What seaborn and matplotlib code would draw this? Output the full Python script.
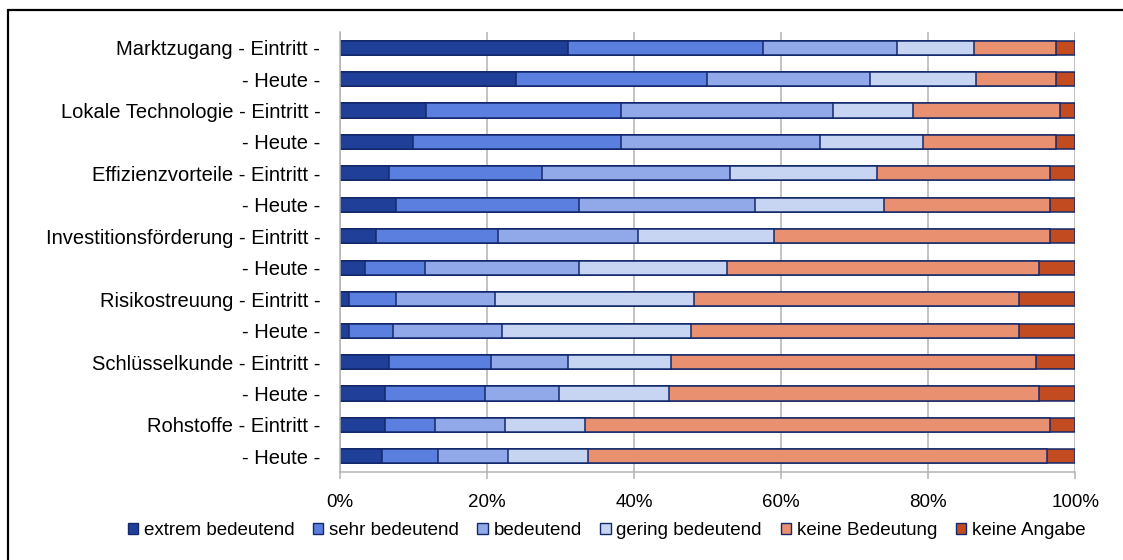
import numpy as np
import pandas as pd
import seaborn as sns
import matplotlib.pyplot as plt
from matplotlib.patches import Patch
from matplotlib.lines import Line2D

# rows from top to bottom
row_keys = ["Marktzugang - Eintritt", "Marktzugang - Heute",
            "Lokale Technologie - Eintritt", "Lokale Technologie - Heute",
            "Effizienzvorteile - Eintritt", "Effizienzvorteile - Heute",
            "Investitionsförderung - Eintritt", "Investitionsförderung - Heute",
            "Risikostreuung - Eintritt", "Risikostreuung - Heute",
            "Schlüsselkunde - Eintritt", "Schlüsselkunde - Heute",
            "Rohstoffe - Eintritt", "Rohstoffe - Heute"]
row_labels = ["Marktzugang - Eintritt -", "- Heute -",
              "Lokale Technologie - Eintritt -", "- Heute -",
              "Effizienzvorteile - Eintritt -", "- Heute -",
              "Investitionsförderung - Eintritt -", "- Heute -",
              "Risikostreuung - Eintritt -", "- Heute -",
              "Schlüsselkunde - Eintritt -", "- Heute -",
              "Rohstoffe - Eintritt -", "- Heute -"]

extrem = [31.0, 23.9, 11.7, 9.9, 6.7, 7.7, 4.9, 3.4, 1.3, 1.3, 6.7, 6.2, 6.2, 5.8]
sehr = [26.6, 26.0, 26.6, 28.4, 20.8, 24.8, 16.6, 8.2, 6.4, 5.9, 13.9, 13.6, 6.7, 7.6]
bedeutend = [18.1, 22.2, 28.8, 27.0, 25.6, 23.9, 19.0, 20.9, 13.4, 14.8, 10.4, 10.0, 9.6, 9.5]
gering = [10.5, 14.4, 10.9, 14.0, 19.9, 17.6, 18.5, 20.2, 27.1, 25.8, 14.0, 14.9, 10.8, 10.9]
keine_bed = [11.2, 10.9, 19.9, 18.1, 23.5, 22.5, 37.5, 42.4, 44.2, 44.6, 49.6, 50.4, 63.2, 62.3]
keine_ang = [2.6, 2.6, 2.1, 2.6, 3.5, 3.5, 3.5, 4.9, 7.6, 7.6, 5.4, 4.9, 3.5, 3.9]

series_names = ["extrem bedeutend", "sehr bedeutend", "bedeutend",
                "gering bedeutend", "keine Bedeutung", "keine Angabe"]
colors = ["#1f3f99", "#5b7fde", "#91a9e8", "#c7d5f3", "#e8906f", "#c24b20"]
edge = "#14296b"

df = pd.DataFrame({"row": row_keys, "extrem bedeutend": extrem,
                   "sehr bedeutend": sehr, "bedeutend": bedeutend,
                   "gering bedeutend": gering, "keine Bedeutung": keine_bed,
                   "keine Angabe": keine_ang})
cum = df[series_names].cumsum(axis=1)

sns.set_style("white")
plt.rcParams["font.family"] = ["Liberation Sans", "DejaVu Sans"]
plt.rcParams["font.size"] = 13.5
plt.rcParams["text.color"] = "black"

fig = plt.figure(figsize=(11.23, 5.6), dpi=100)
ax = fig.add_axes([0.3025, 0.157, 0.655, 0.786])

# stacked bars: draw cumulative totals from the outermost segment inwards
for name, col in reversed(list(zip(series_names, colors))):
    sns.barplot(x=cum[name], y=df["row"], order=row_keys, color=col,
                orient="h", width=0.45, edgecolor=edge, linewidth=1.1,
                saturation=1, ax=ax)

ax.set_xlim(0, 100)
ax.set_ylim(13.5, -0.5)
ax.set_xticks(np.arange(0, 101, 20))
ax.set_xticklabels([f"{v}%" for v in range(0, 101, 20)])
ax.set_yticks(range(len(row_labels)))
ax.set_yticklabels(row_labels, fontsize=14.5)
ax.set_yticks(np.arange(-0.5, 14, 1), minor=True)
ax.set_xlabel("")
ax.set_ylabel("")
ax.xaxis.grid(True, color="#b3b3b3", linewidth=1.1)
ax.set_axisbelow(True)
for s in ["top", "right"]:
    ax.spines[s].set_visible(False)
for s in ["left", "bottom"]:
    ax.spines[s].set_color("#b3b3b3")
    ax.spines[s].set_linewidth(1.1)
ax.tick_params(axis="y", which="major", length=0, pad=14, labelcolor="black")
ax.tick_params(axis="y", which="minor", length=6, color="#b3b3b3", width=1.1)
ax.tick_params(axis="x", which="major", length=5, color="#b3b3b3", width=1.1,
               pad=11, bottom=True, labelcolor="black")

handles = [Patch(facecolor=c, edgecolor=edge, linewidth=1) for c in colors]
fig.legend(handles, series_names, loc="center", ncol=6, frameon=False,
           bbox_to_anchor=(0.54, 0.052), handlelength=0.55, handleheight=0.55,
           handletextpad=0.3, columnspacing=1.0, labelcolor="black")

# outer frame (runs off the right and bottom edges)
fig.add_artist(Line2D([8 / 1123, 1], [1 - 10 / 560, 1 - 10 / 560],
                      transform=fig.transFigure, color="black", linewidth=1.6))
fig.add_artist(Line2D([8 / 1123, 8 / 1123], [0, 1 - 10 / 560],
                      transform=fig.transFigure, color="black", linewidth=1.6))

fig.savefig("out.png", dpi=100)
